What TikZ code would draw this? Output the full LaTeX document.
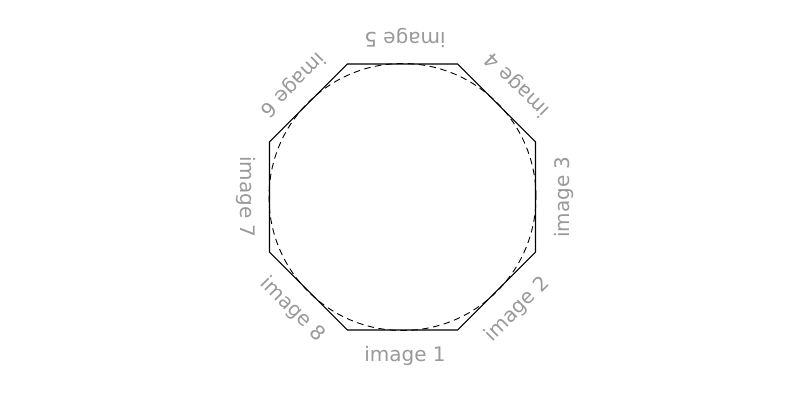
\documentclass[tikz,border=0pt]{standalone}
\usepackage{fontspec}
\setmainfont{DejaVu Sans}
\usetikzlibrary{calc}
\definecolor{labelgray}{HTML}{999999}
\begin{document}
\begin{tikzpicture}[x=1pt,y=1pt,
  octo/.style={line width=1.1pt,black},
  incirc/.style={dashed,dash pattern=on 6.5pt off 4.5pt,line width=0.9pt,black},
  lab/.style={text=labelgray,font=\fontsize{20}{23}\selectfont,inner sep=0pt,anchor=center}]
\useasboundingbox (0,0) rectangle (800,400);
\coordinate (c) at (402.5,203);
\foreach \k in {0,...,7} {
  \coordinate (v\k) at ($(c)+({-112.5+\k*45}:144)$);
}
\draw[octo] (v0) -- (v1) -- (v2) -- (v3) -- (v4) -- (v5) -- (v6) -- (v7) -- cycle;
\draw[incirc] (c) circle (133.5);
\foreach \k in {1,...,8} {
  \pgfmathsetmacro{\ang}{-90+(\k-1)*45}
  \pgfmathsetmacro{\rot}{(\k-1)*45}
  \node[lab,rotate=\rot] (l\k) at ($(c)+(\ang:159)+(2.5,0)$) {image \k};
}
\end{tikzpicture}
\end{document}
